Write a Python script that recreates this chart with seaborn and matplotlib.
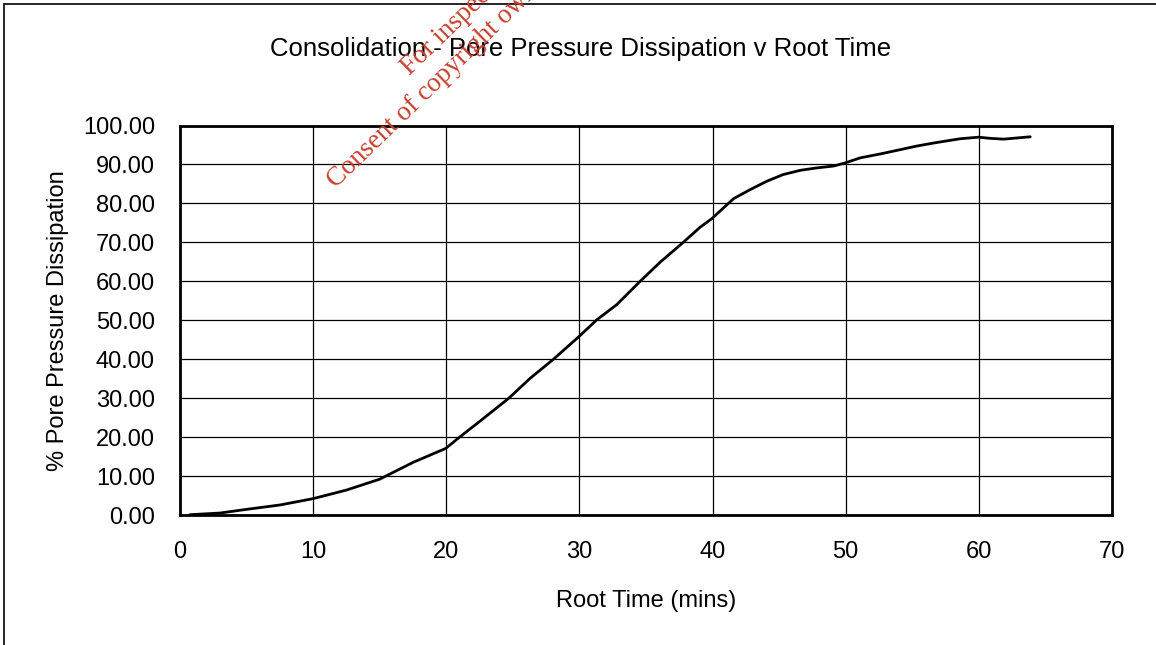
import matplotlib
matplotlib.use("Agg")
import matplotlib.pyplot as plt
from matplotlib.patches import Rectangle
import seaborn as sns

# Root time (sqrt minutes) and % pore pressure dissipation
root_time = [0.75, 3.0, 5.0, 7.5, 10.0, 12.5, 15.0, 17.5, 19.96, 21.0, 22.5,
             24.7, 26.3, 28.05, 29.93, 31.3, 32.8, 34.56, 36.06, 37.8,
             39.07, 39.95, 41.57, 42.8, 44.08, 45.3, 46.6, 47.8, 49.1,
             49.96, 51.1, 52.6, 54.1, 55.3, 56.6, 58.6, 59.98, 60.86, 61.86,
             63.86]
dissipation = [0.08, 0.5, 1.45, 2.57, 4.2, 6.4, 9.2, 13.5, 17.1, 20.0, 24.0,
               30.0, 35.1, 40.0, 45.7, 50.1, 54.0, 60.0, 64.9, 70.0,
               73.9, 76.1, 81.2, 83.5, 85.7, 87.4, 88.5, 89.1, 89.6,
               90.4, 91.7, 92.7, 93.8, 94.7, 95.5, 96.6, 97.0, 96.7, 96.5,
               97.1]

x_ticks = [0, 10, 20, 30, 40, 50, 60, 70]
y_ticks = [0, 10, 20, 30, 40, 50, 60, 70, 80, 90, 100]

title = "Consolidation - Pore Pressure Dissipation v Root Time"
x_label = "Root Time (mins)"
y_label = "% Pore Pressure Dissipation"
stamp_lines = ["For inspection purposes only.",
               "Consent of copyright owner required for any other use."]

sns.set_style("white")
plt.rcParams["font.family"] = ["Liberation Sans", "DejaVu Sans"]

fig = plt.figure(figsize=(11.56, 6.45), dpi=100)
ax = fig.add_axes([180 / 1156, 1 - 515 / 645, 932 / 1156, 389.5 / 645])

sns.lineplot(x=root_time, y=dissipation, ax=ax, color="black", lw=2.0,
             sort=False, zorder=3)

ax.set_xlim(0, 70)
ax.set_ylim(0, 100)
ax.set_xticks(x_ticks)
ax.set_xticklabels([str(t) for t in x_ticks])
ax.set_yticks(y_ticks)
ax.set_yticklabels([f"{t:.2f}" for t in y_ticks])
ax.grid(True, color="black", lw=0.9)
ax.set_axisbelow(True)
for sp in ax.spines.values():
    sp.set_color("black")
    sp.set_linewidth(2.0)
    sp.set_visible(True)
ax.tick_params(axis="both", direction="out", length=8, width=1.0,
               color="black", labelsize=17, labelcolor="black", pad=10)
ax.tick_params(axis="x", pad=11)

ax.set_xlabel(x_label, fontsize=17, labelpad=19, color="black")
ax.set_ylabel(y_label, fontsize=17, labelpad=10, color="black")

fig.text(0.5 * (269 + 892) / 1156, 1 - 49 / 645, title, fontsize=18.5,
         ha="center", va="center", color="black")

# Outer chart frame
fig.patches.append(Rectangle((3.5 / 1156, -0.1), 1.2, 1.1 - 4 / 645,
                             transform=fig.transFigure, fill=False,
                             edgecolor="black", lw=1.2))

# Rotated red stamp text
stamp_kw = dict(rotation=44, rotation_mode="anchor", ha="left", va="baseline",
                color="#c8402e", fontsize=19.5, family=["Liberation Serif"])
fig.text(410 / 1156, 1 - 76 / 645, stamp_lines[0], **stamp_kw)
fig.text(336 / 1156, 1 - 189 / 645, stamp_lines[1], **stamp_kw)

fig.savefig("out.png", dpi=100)
